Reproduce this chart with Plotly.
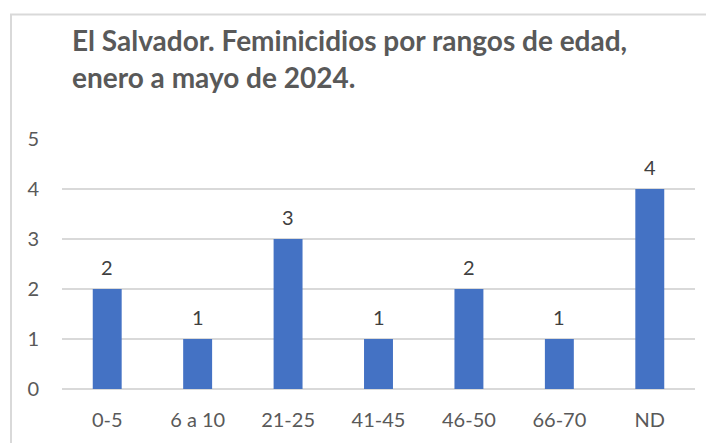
import plotly.graph_objects as go

categories = ["0-5", "6 a 10", "21-25", "41-45", "46-50", "66-70", "ND"]
values = [2, 1, 3, 1, 2, 1, 4]
title_lines = ["El Salvador. Feminicidios por rangos de edad,", "enero a mayo de 2024."]
y_ticks = [0, 1, 2, 3, 4, 5]

OFF = 8  # page body margin
W, H = 714 - OFF, 443 - OFF
# plot area in screenshot pixels: x 62..695, y 139..389
L, R, T, B = 62 - OFF, 714 - 695, 139 - OFF, 443 - 389
pw, ph = W - L - R, H - T - B

def px_x(p):
    return (p - OFF - L) / pw

def px_y(p):
    return (H - B - (p - OFF)) / ph

FONT = "Lato"

fig = go.Figure()
fig.add_trace(go.Bar(x=categories, y=values, marker=dict(color="#4472C4", line=dict(width=0)),
                     hoverinfo="x+y"))

annotations = []
for c, v in zip(categories, values):
    annotations.append(dict(x=c, y=v, xref="x", yref="y", text=str(v), showarrow=False,
                            yanchor="middle", yshift=22,
                            font=dict(family=FONT, size=20, color="#404040")))
for i, (line, yp) in enumerate(zip(title_lines, [40, 77])):
    annotations.append(dict(x=px_x(70), y=px_y(yp), xref="paper", yref="paper", text="<b>" + line + "</b>",
                            showarrow=False, xanchor="left", yanchor="middle",
                            font=dict(family=FONT, size=28, color="#595959")))

fig.update_layout(
    width=W, height=H,
    margin=dict(l=L, r=R, t=T, b=B, autoexpand=False),
    paper_bgcolor="white", plot_bgcolor="white",
    bargap=0.68,
    showlegend=False,
    annotations=annotations,
    shapes=[dict(type="rect", xref="paper", yref="paper",
                 x0=px_x(11), x1=px_x(740), y0=px_y(470), y1=px_y(14.5),
                 line=dict(color="#D9D9D9", width=2), fillcolor="rgba(0,0,0,0)", layer="below")],
    xaxis=dict(tickfont=dict(family=FONT, size=20, color="#595959"), showgrid=False,
               showline=False, ticks="", ticklabelstandoff=17, automargin=False),
    yaxis=dict(range=[0, 5], tickvals=y_ticks, tickfont=dict(family=FONT, size=20, color="#595959"),
               showgrid=True, gridcolor="#D9D9D9", gridwidth=1.5, zeroline=True, zerolinecolor="#D9D9D9",
               zerolinewidth=1.5, showline=False, ticks="", ticklabelstandoff=22, automargin=False),
)

fig.write_html("out.html")
